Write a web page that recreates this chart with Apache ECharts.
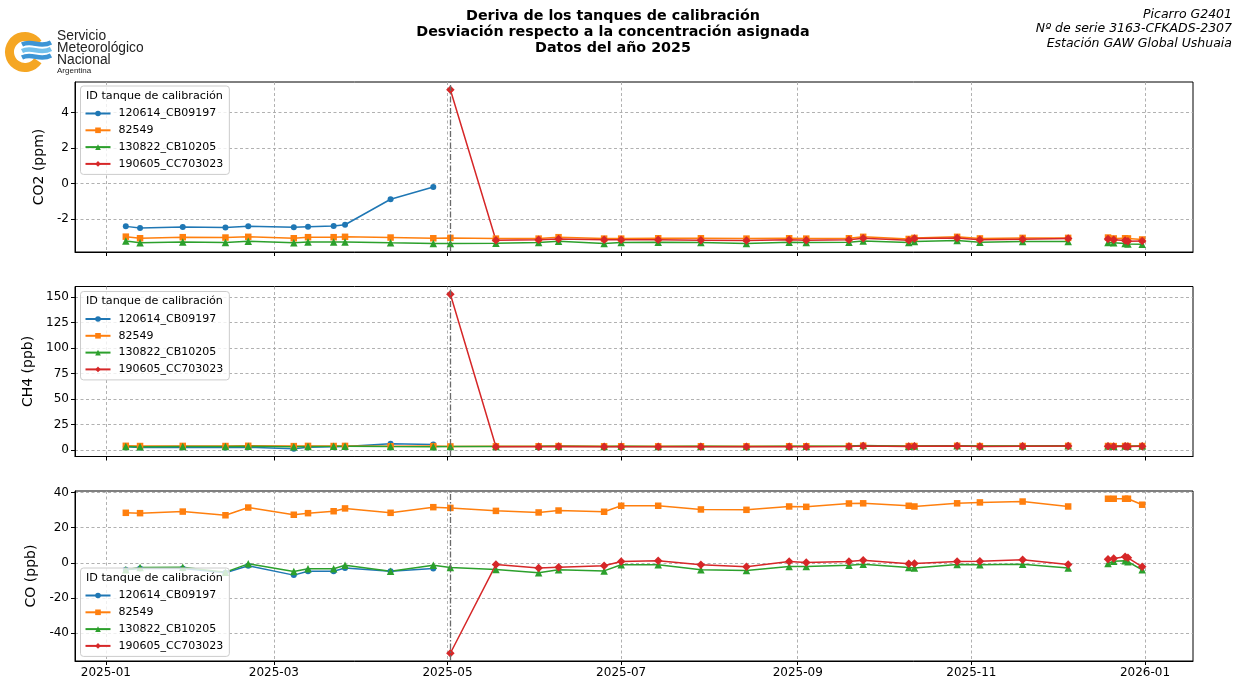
<!DOCTYPE html>
<html>
<head>
<meta charset="utf-8">
<script src="https://cdn.jsdelivr.net/npm/echarts@6/dist/echarts.min.js"></script>
<style>
  html, body { margin: 0; padding: 0; background: #fff; }
  #chart { width: 1242px; height: 681px; }
</style>
</head>
<body>
<div id="chart"></div>
<script>
// fechas de medición (índice 30 = hueco sin datos, corta las líneas)
const dates = [
  '2025-01-08', '2025-01-13', '2025-01-28', '2025-02-12', '2025-02-20', '2025-03-08',
  '2025-03-13', '2025-03-22', '2025-03-26', '2025-04-11', '2025-04-26', '2025-05-02',
  '2025-05-18', '2025-06-02', '2025-06-09', '2025-06-25', '2025-07-01', '2025-07-14',
  '2025-07-29', '2025-08-14', '2025-08-29', '2025-09-04', '2025-09-19', '2025-09-24',
  '2025-10-10', '2025-10-12', '2025-10-27', '2025-11-04', '2025-11-19', '2025-12-05',
  '2025-12-12', '2025-12-19', '2025-12-21', '2025-12-25', '2025-12-26', '2025-12-31'
]
const changeDate = '2025-05-02'
const monthTicks = ['2025-01-01', '2025-03-01', '2025-05-01', '2025-07-01', '2025-09-01', '2025-11-01', '2026-01-01']

const tankNames = ['120614_CB09197', '82549', '130822_CB10205', '190605_CC703023']

const N = null
// CO2 (ppm)
const co2Blue = [-2.42, -2.51, -2.46, -2.49, -2.42, -2.47, -2.44, -2.40, -2.33, -0.89, -0.20,
  N, N, N, N, N, N, N, N, N, N, N, N, N, N, N, N, N, N, N, N, N, N, N, N, N]
const co2Orange = [-3.00, -3.09, -3.03, -3.05, -3.01, -3.09, -3.03, -3.03, -3.01, -3.05, -3.09,
  -3.07, -3.11, -3.11, -3.03, -3.11, -3.11, -3.09, -3.09, -3.11, -3.09, -3.11,
  -3.09, -3.01, -3.13, -3.07, -3.01, -3.10, -3.07, -3.07, N, -3.05, -3.10, -3.09, -3.10, -3.16]
const co2Green = [-3.24, -3.35, -3.30, -3.33, -3.26, -3.35, -3.30, -3.30, -3.30, -3.35, -3.39,
  -3.39, -3.37, -3.33, -3.26, -3.39, -3.33, -3.31, -3.33, -3.39, -3.31, -3.33,
  -3.31, -3.24, -3.33, -3.28, -3.22, -3.31, -3.28, -3.28, N, -3.33, -3.35, -3.39, -3.41, -3.43]
const co2Red = [N, N, N, N, N, N, N, N, N, N, N,
  5.29, -3.20, -3.18, -3.13, -3.18, -3.18, -3.18, -3.20, -3.22, -3.18, -3.20,
  -3.18, -3.09, -3.20, -3.10, -3.07, -3.18, -3.14, -3.10, N, -3.13, -3.18, -3.22, -3.26, -3.24]

// CH4 (ppb)
const ch4Blue = [3.2, 2.6, 2.9, 2.6, 2.9, 1.3, 2.9, 3.2, 3.5, 6.2, 5.5,
  N, N, N, N, N, N, N, N, N, N, N, N, N, N, N, N, N, N, N, N, N, N, N, N, N]
const ch4Orange = [4.2, 4.0, 4.1, 4.0, 4.2, 3.9, 4.1, 4.0, 4.1, 3.8, 3.9,
  3.6, 3.7, 3.8, 3.9, 3.7, 3.8, 3.7, 3.8, 3.7, 3.8, 3.8,
  3.9, 4.3, 3.9, 4.0, 4.2, 3.9, 4.0, 4.1, N, 4.0, 3.9, 4.0, 3.9, 4.0]
const ch4Green = [3.6, 3.4, 3.6, 3.5, 3.8, 3.3, 3.6, 3.7, 3.8, 3.5, 3.4,
  3.5, 3.6, 3.7, 3.8, 3.6, 3.7, 3.6, 3.7, 3.6, 3.7, 3.7,
  3.9, 4.4, 3.8, 4.0, 4.3, 3.9, 4.1, 4.2, N, 3.9, 3.8, 3.9, 3.8, 3.9]
const ch4Red = [N, N, N, N, N, N, N, N, N, N, N,
  152.6, 3.3, 3.4, 3.5, 3.3, 3.4, 3.3, 3.4, 3.3, 3.4, 3.4,
  3.6, 4.0, 3.6, 3.7, 4.0, 3.6, 3.8, 3.9, N, 3.7, 3.6, 3.7, 3.6, 3.7]

// CO (ppb)
const coBlue = [-4.0, -3.3, -3.2, -5.7, -1.7, -7.0, -4.8, -4.8, -3.0, -4.8, -3.2,
  N, N, N, N, N, N, N, N, N, N, N, N, N, N, N, N, N, N, N, N, N, N, N, N, N]
const coOrange = [28.4, 28.2, 29.1, 27.0, 31.4, 27.3, 28.2, 29.3, 30.9, 28.4, 31.6,
  31.2, 29.5, 28.6, 29.7, 29.0, 32.4, 32.4, 30.3, 30.1, 32.0, 31.8,
  33.7, 33.8, 32.4, 32.0, 33.8, 34.3, 34.8, 32.0, N, 36.4, 36.4, 36.4, 36.4, 33.0]
const coGreen = [-4.0, -2.7, -2.5, -5.3, -0.6, -4.9, -3.4, -3.4, -1.4, -4.8, -1.4,
  -2.7, -3.8, -5.7, -4.0, -4.6, -1.1, -1.1, -4.0, -4.4, -2.1, -2.1,
  -1.4, -0.8, -2.7, -3.0, -1.0, -1.1, -0.8, -3.0, N, -0.4, 0.9, 1.1, 0.6, -4.0]
const coRed = [N, N, N, N, N, N, N, N, N, N, N,
  -51.4, -1.0, -3.0, -2.5, -1.7, 0.7, 1.1, -1.1, -2.3, 0.7, 0.2,
  0.7, 1.5, -0.6, -0.4, 0.7, 0.9, 1.7, -1.0, N, 2.0, 2.4, 3.4, 2.8, -2.3]

const co2Ticks = [-2, 0, 2, 4]
const ch4Ticks = [0, 25, 50, 75, 100, 125, 150]
const coTicks = [-40, -20, 0, 20, 40]

// ---------------------------------------------------------------
const FONT = 'DejaVu Sans'
const colors = ['#1f77b4', '#ff7f0e', '#2ca02c', '#d62728']
const symbols = ['circle', 'rect', 'triangle', 'diamond']
const symbolSizes = [6, 6.5, 7.5, 8.5]

function toTime(s) {
  const p = s.split('-').map(Number)
  return Date.UTC(p[0], p[1] - 1, p[2] || 1)
}
function fmtMonth(v) {
  const d = new Date(v)
  return d.getUTCFullYear() + '-' + String(d.getUTCMonth() + 1).padStart(2, '0')
}
const times = dates.map(toTime)
const xPad = 0.05 * (times[times.length - 1] - times[0])
const xMin = times[0] - xPad
const xMax = times[times.length - 1] + xPad

function yRange(arrs) {
  const all = [].concat(...arrs).filter(v => v !== null)
  const lo = Math.min(...all), hi = Math.max(...all)
  const pad = 0.05 * (hi - lo)
  return [lo - pad, hi + pad]
}

const panels = [
  { name: 'CO2 (ppm)', data: [co2Blue, co2Orange, co2Green, co2Red], ticks: co2Ticks, top: 82, legendTop: 86 },
  { name: 'CH4 (ppb)', data: [ch4Blue, ch4Orange, ch4Green, ch4Red], ticks: ch4Ticks, top: 286.5, legendTop: 291.5 },
  { name: 'CO (ppb)', data: [coBlue, coOrange, coGreen, coRed], ticks: coTicks, top: 491, legendTop: 568 }
]

const chart = echarts.init(document.getElementById('chart'), null, { renderer: 'canvas' })

const grids = [], xAxes = [], yAxes = [], series = [], legends = [], graphics = []
const monthTimes = monthTicks.map(toTime)

panels.forEach((p, k) => {
  grids.push({ left: 75, right: 49, top: p.top, height: 170, show: true, borderColor: '#000', borderWidth: 1, backgroundColor: 'transparent' })
  xAxes.push({
    type: 'value', gridIndex: k, min: xMin, max: xMax, scale: true,
    axisLine: { show: true, onZero: false, lineStyle: { color: '#000', width: 1 } },
    axisTick: { show: true, length: 4, customValues: monthTimes, lineStyle: { color: '#000' } },
    axisLabel: {
      show: k === 2, customValues: monthTimes, color: '#000', fontSize: 12, fontFamily: FONT, margin: 6,
      formatter: fmtMonth
    },
    splitLine: { show: true, lineStyle: { color: '#a8a8a8', type: [3, 2.5], width: 0.9 } }
  })
  const yr = yRange(p.data)
  yAxes.push({
    type: 'value', gridIndex: k, min: yr[0], max: yr[1],
    name: p.name, nameLocation: 'middle', nameGap: 29,
    nameTextStyle: { color: '#000', fontSize: 14, fontFamily: FONT },
    axisLine: { show: true, onZero: false, lineStyle: { color: '#000', width: 1 } },
    axisTick: { show: true, length: 4, customValues: p.ticks, lineStyle: { color: '#000' } },
    axisLabel: { customValues: p.ticks, color: '#000', fontSize: 12, fontFamily: FONT, margin: 6 },
    splitLine: { show: true, lineStyle: { color: '#a8a8a8', type: [3, 2.5], width: 0.9 } }
  })
  p.data.forEach((vals, i) => {
    const s = {
      name: tankNames[i], type: 'line', xAxisIndex: k, yAxisIndex: k,
      data: times.map((t, j) => [t, vals[j] === null ? '-' : vals[j]]),
      connectNulls: false,
      symbol: symbols[i], symbolSize: symbolSizes[i], showAllSymbol: true,
      itemStyle: { color: colors[i] },
      lineStyle: { color: colors[i], width: 1.5 },
      emphasis: { disabled: true },
      animation: false
    }
    if (i === 3) {
      s.markLine = {
        silent: true, symbol: 'none', label: { show: false }, animation: false,
        lineStyle: { color: '#6a6a6a', type: [6, 2, 1.5, 2], width: 1.3 },
        data: [{ xAxis: toTime(changeDate) }]
      }
    }
    series.push(s)
  })
  legends.push({
    orient: 'vertical', left: 80.5, top: p.legendTop,
    data: tankNames,
    itemWidth: 25, itemHeight: 7, itemGap: 5.8,
    padding: [22, 6, 5, 4],
    backgroundColor: 'rgba(255,255,255,0.8)', borderColor: '#cccccc', borderWidth: 1, borderRadius: 3,
    textStyle: { color: '#000', fontSize: 11, fontFamily: FONT, padding: [0, 0, 0, 3] },
    selectedMode: false
  })
  graphics.push({
    type: 'text', left: 86, top: p.legendTop + 4.5, z: 100,
    style: { text: 'ID tanque de calibración', fontSize: 11.2, fontFamily: FONT, fill: '#000' }
  })
})

// títulos
graphics.push({
  type: 'text', x: 613, y: 8, z: 100,
  style: {
    text: 'Deriva de los tanques de calibración\nDesviación respecto a la concentración asignada\nDatos del año 2025',
    fontSize: 14.3, fontWeight: 'bold', fontFamily: FONT, fill: '#000', align: 'center', lineHeight: 16
  }
})
graphics.push({
  type: 'text', x: 1232, y: 7, z: 100,
  style: {
    text: 'Picarro G2401\nNº de serie 3163-CFKADS-2307\nEstación GAW Global Ushuaia',
    fontSize: 12.5, fontStyle: 'italic', fontFamily: FONT, fill: '#000', align: 'right', lineHeight: 14.5
  }
})

// logo SMN
graphics.push({
  type: 'group', x: 0, y: 0, z: 100,
  children: [
    { type: 'arc', shape: { cx: 25, cy: 52, r: 15.5, startAngle: 0.6, endAngle: Math.PI * 2 - 0.6 },
      style: { stroke: '#f5a623', lineWidth: 9, fill: null } },
    { type: 'bezierCurve', shape: { x1: 22, y1: 44.5, cpx1: 32, cpy1: 39.5, cpx2: 40, cpy2: 48.5, x2: 51, y2: 42.5 },
      style: { stroke: '#3d95d5', lineWidth: 4.5, fill: null } },
    { type: 'bezierCurve', shape: { x1: 22, y1: 51, cpx1: 32, cpy1: 46, cpx2: 40, cpy2: 55, x2: 51, y2: 49 },
      style: { stroke: '#74c1ec', lineWidth: 4.5, fill: null } },
    { type: 'bezierCurve', shape: { x1: 22, y1: 57.5, cpx1: 32, cpy1: 52.5, cpx2: 40, cpy2: 61.5, x2: 51, y2: 55.5 },
      style: { stroke: '#3d95d5', lineWidth: 4.5, fill: null } },
    { type: 'text', x: 57, y: 30, style: { text: 'Servicio\nMeteorológico\nNacional', fontSize: 13.8, fontFamily: 'Liberation Sans', fill: '#222', lineHeight: 12 } },
    { type: 'text', x: 57, y: 66.5, style: { text: 'Argentina', fontSize: 8, fontFamily: 'Liberation Sans', fill: '#222' } }
  ]
})

chart.setOption({
  animation: false,
  backgroundColor: '#fff',
  textStyle: { fontFamily: FONT },
  grid: grids,
  xAxis: xAxes,
  yAxis: yAxes,
  legend: legends,
  series: series,
  graphic: graphics
})
</script>
</body>
</html>
